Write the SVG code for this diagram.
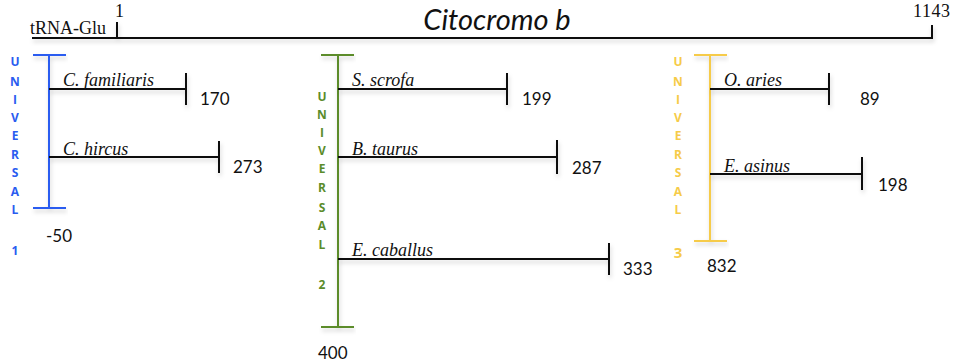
<svg xmlns="http://www.w3.org/2000/svg" width="956" height="364" viewBox="0 0 956 364">
  <defs>
    <filter id="shadow" x="-5%" y="-50%" width="110%" height="200%">
      <feDropShadow dx="1" dy="3" stdDeviation="2" flood-color="#000" flood-opacity="0.18"/>
    </filter>
  </defs>
  <style>
    .ln { stroke: #111; stroke-width: 2; fill: none; }
    .blue { stroke: #2a5cf0; stroke-width: 2; fill: none; }
    .green { stroke: #5b8c2a; stroke-width: 2; fill: none; }
    .gold { stroke: #f6cb48; stroke-width: 2; fill: none; }
    .serif { font-family: "Liberation Serif", "DejaVu Serif", serif; font-size: 18px; fill: #111; }
    .sp { font-family: "Liberation Serif", "DejaVu Serif", serif; font-style: italic; font-size: 18px; fill: #111; }
    .num { font-family: Lato, "Open Sans", sans-serif; font-size: 17px; fill: #111; }
    .vb { font-family: "Open Sans", "DejaVu Sans", sans-serif; font-weight: bold; font-size: 12px; text-anchor: middle; }
  </style>

  <!-- gene axis -->
  <g id="axis">
    <path class="ln" filter="url(#shadow)" d="M32,38 H932 V25 M117,38 V22"/>
    <text class="serif" x="30" y="34">tRNA-Glu</text>
    <text class="serif" x="115" y="17">1</text>
    <text class="serif" x="913" y="17" textLength="37">1143</text>
    <text x="497" y="30" text-anchor="middle" font-family="Lato, 'Open Sans', sans-serif" font-style="italic" font-size="29" fill="#111">Citocromo b</text>
  </g>

  <!-- primer 1 -->
  <g id="universal-1">
    <path class="blue" filter="url(#shadow)" d="M33,55 H66 M49,55 V208 M33,208 H66"/>
    <g class="vb" fill="#2a5cf0">
      <text x="15" y="66">U</text>
      <text x="15" y="86">N</text>
      <text x="15" y="104">I</text>
      <text x="15" y="122">V</text>
      <text x="15" y="140">E</text>
      <text x="15" y="159">R</text>
      <text x="15" y="177">S</text>
      <text x="15" y="196">A</text>
      <text x="15" y="214">L</text>
      <text x="15" y="255">1</text>
    </g>
    <text class="num" x="46" y="242">-50</text>
  </g>

  <!-- primer 2 -->
  <g id="universal-2">
    <path class="green" filter="url(#shadow)" d="M321,55 H354 M338,55 V327 M321,327 H354"/>
    <g class="vb" fill="#5b8c2a">
      <text x="322" y="101">U</text>
      <text x="322" y="119">N</text>
      <text x="322" y="137">I</text>
      <text x="322" y="155">V</text>
      <text x="322" y="173">E</text>
      <text x="322" y="192">R</text>
      <text x="322" y="212">S</text>
      <text x="322" y="230">A</text>
      <text x="322" y="249">L</text>
      <text x="322" y="289">2</text>
    </g>
    <text class="num" x="318" y="359">400</text>
  </g>

  <!-- primer 3 -->
  <g id="universal-3">
    <path class="gold" filter="url(#shadow)" d="M694,55 H727 M710,55 V241 M694,241 H727"/>
    <g class="vb" fill="#f6cb48">
      <text x="678" y="66">U</text>
      <text x="678" y="86">N</text>
      <text x="678" y="104">I</text>
      <text x="678" y="122">V</text>
      <text x="678" y="140">E</text>
      <text x="678" y="159">R</text>
      <text x="678" y="177">S</text>
      <text x="678" y="196">A</text>
      <text x="678" y="214">L</text>
      <text x="678" y="258" font-size="15">3</text>
    </g>
    <text class="num" x="707" y="272">832</text>
  </g>

  <!-- amplicon lengths per species -->
  <g id="connectors">
    <path class="ln" filter="url(#shadow)" d="M49,89 H186 M186,73 V105"/>
    <path class="ln" filter="url(#shadow)" d="M49,157 H219 M219,141 V173"/>
    <path class="ln" filter="url(#shadow)" d="M338,89 H507 M507,73 V105"/>
    <path class="ln" filter="url(#shadow)" d="M338,157 H557 M557,140 V174"/>
    <path class="ln" filter="url(#shadow)" d="M338,259 H609 M609,243 V275"/>
    <path class="ln" filter="url(#shadow)" d="M710,89 H829 M829,73 V105"/>
    <path class="ln" filter="url(#shadow)" d="M710,174 H862 M862,157 V190"/>
  </g>

  <g id="c-familiaris">
    <text class="sp" x="63" y="86">C. familiaris</text>
    <text class="num" x="200" y="105">170</text>
  </g>
  <g id="c-hircus">
    <text class="sp" x="63" y="155">C. hircus</text>
    <text class="num" x="233" y="173">273</text>
  </g>
  <g id="s-scrofa">
    <text class="sp" x="352" y="86">S. scrofa</text>
    <text class="num" x="522" y="105">199</text>
  </g>
  <g id="b-taurus">
    <text class="sp" x="352" y="155">B. taurus</text>
    <text class="num" x="572" y="174">287</text>
  </g>
  <g id="e-caballus">
    <text class="sp" x="352" y="256">E. caballus</text>
    <text class="num" x="623" y="275">333</text>
  </g>
  <g id="o-aries">
    <text class="sp" x="724" y="86">O. aries</text>
    <text class="num" x="860" y="105">89</text>
  </g>
  <g id="e-asinus">
    <text class="sp" x="724" y="172">E. asinus</text>
    <text class="num" x="878" y="191">198</text>
  </g>
</svg>
